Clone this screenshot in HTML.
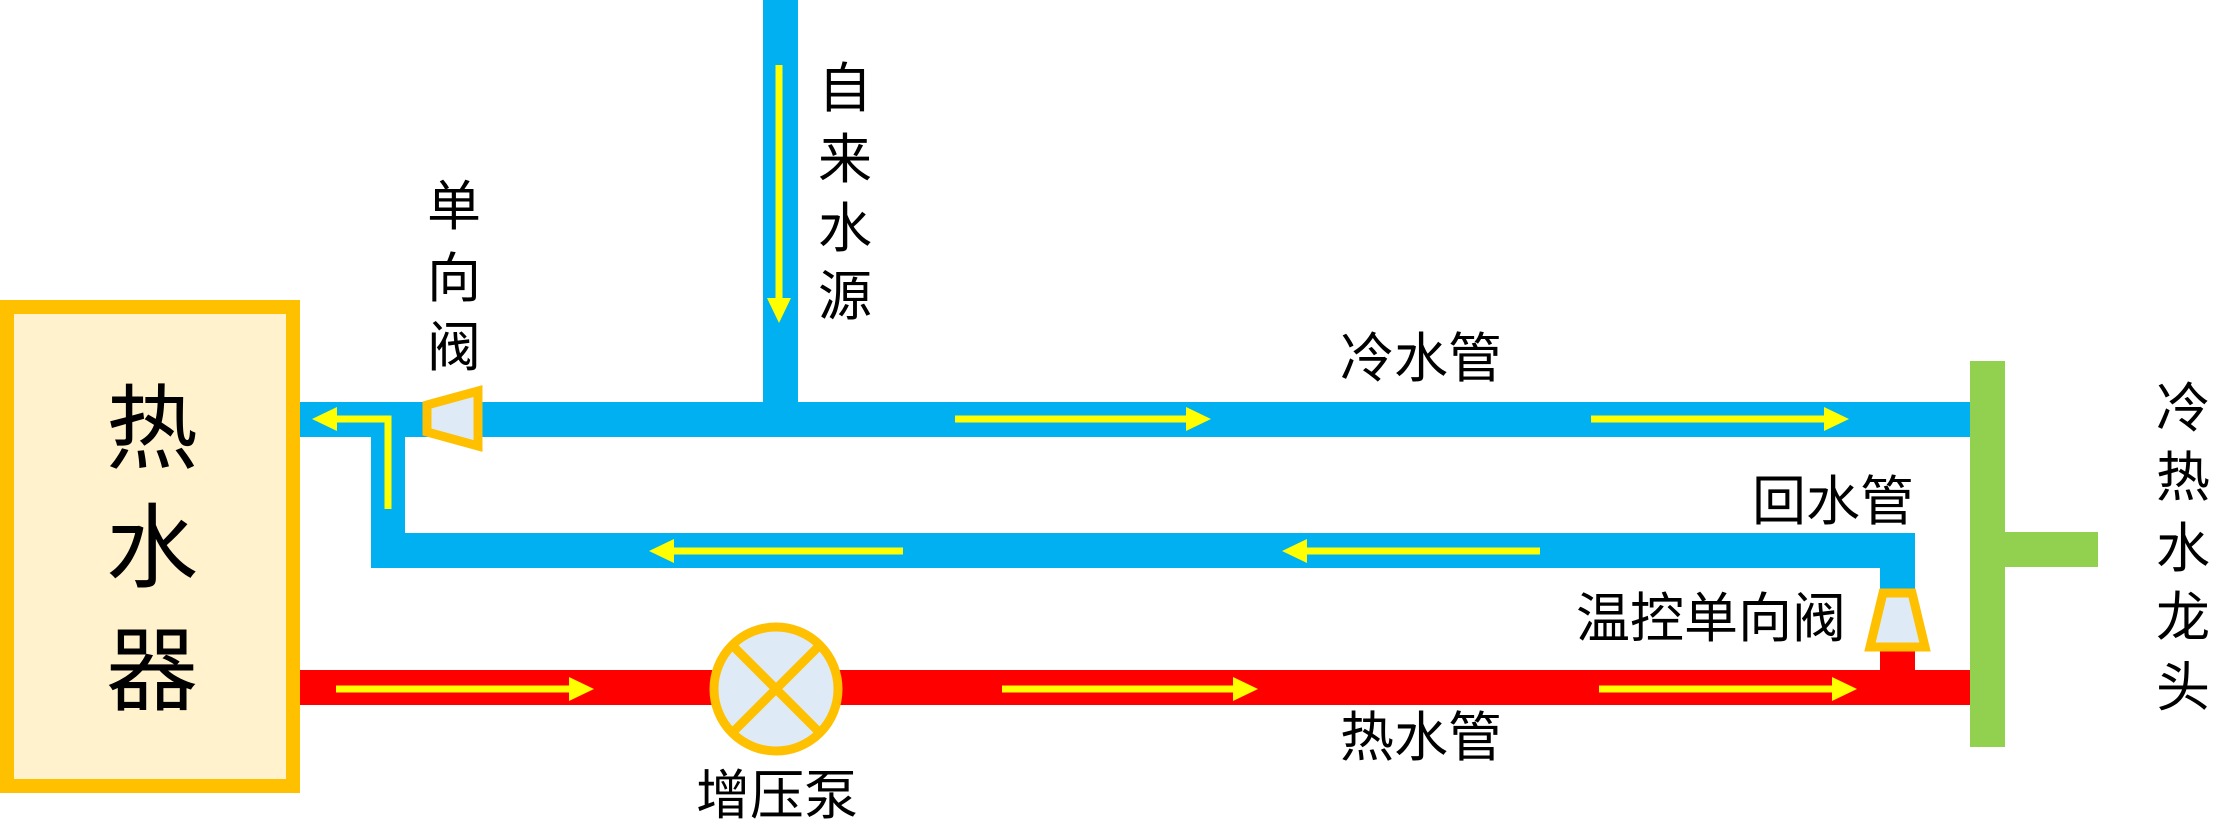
<!DOCTYPE html>
<html><head><meta charset="utf-8"><style>
html,body{margin:0;padding:0;background:#fff;}
svg{display:block;}
text{font-family:"Liberation Sans","Noto Sans CJK SC",sans-serif;fill:#000;}
</style></head><body>
<svg width="2213" height="825" viewBox="0 0 2213 825" xmlns="http://www.w3.org/2000/svg">
<defs>
<marker id="ah" markerWidth="26" markerHeight="26" refX="0" refY="0" orient="auto" markerUnits="userSpaceOnUse" viewBox="0 -13 26 26" overflow="visible">
<path d="M0,-12 L25,0 L0,12 Z" fill="#FFFF00"/>
</marker>
</defs>
<!-- heater -->
<rect x="7" y="307" width="286" height="479" fill="#FFF2CC" stroke="#FFC000" stroke-width="14"/>
<text x="152" y="430" font-size="92" text-anchor="middle" dominant-baseline="central">热</text>
<text x="152" y="549" font-size="92" text-anchor="middle" dominant-baseline="central">水</text>
<text x="152" y="672" font-size="92" text-anchor="middle" dominant-baseline="central">器</text>

<!-- pipes -->
<rect x="763" y="0" width="35" height="402" fill="#00B0F0"/>
<rect x="300" y="402" width="1670" height="35" fill="#00B0F0"/>
<rect x="371" y="437" width="34" height="131" fill="#00B0F0"/>
<rect x="371" y="533" width="1544" height="35" fill="#00B0F0"/>
<rect x="1880" y="533" width="35" height="60" fill="#00B0F0"/>
<rect x="300" y="670" width="1670" height="35" fill="#FF0000"/>
<rect x="1880" y="645" width="35" height="30" fill="#FF0000"/>
<!-- faucet -->
<rect x="1970" y="361" width="35" height="386" fill="#92D050"/>
<rect x="2005" y="532" width="93" height="35" fill="#92D050"/>

<!-- check valve on cold pipe -->
<polygon points="427,405 478,391 478,446 427,432" fill="#DEEBF7" stroke="#FFC000" stroke-width="9"/>
<!-- thermo valve -->
<polygon points="1883,593 1912,593 1925,647 1870,647" fill="#DEEBF7" stroke="#FFC000" stroke-width="9" stroke-linejoin="miter"/>

<!-- pump -->
<circle cx="776" cy="689" r="62" fill="#DEEBF7" stroke="#FFC000" stroke-width="9"/>
<line x1="733" y1="646" x2="819" y2="732" stroke="#FFC000" stroke-width="9"/>
<line x1="819" y1="646" x2="733" y2="732" stroke="#FFC000" stroke-width="9"/>

<!-- arrows -->
<g stroke="#FFFF00" stroke-width="7" fill="none">
<line x1="779" y1="65" x2="779" y2="298" marker-end="url(#ah)"/>
<polyline points="388,509 388,419 337,419" marker-end="url(#ah)"/>
<line x1="955" y1="419" x2="1186" y2="419" marker-end="url(#ah)"/>
<line x1="1591" y1="419" x2="1824" y2="419" marker-end="url(#ah)"/>
<line x1="903" y1="551" x2="674" y2="551" marker-end="url(#ah)"/>
<line x1="1540" y1="551" x2="1307" y2="551" marker-end="url(#ah)"/>
<line x1="336" y1="689" x2="569" y2="689" marker-end="url(#ah)"/>
<line x1="1002" y1="689" x2="1233" y2="689" marker-end="url(#ah)"/>
<line x1="1599" y1="689" x2="1832" y2="689" marker-end="url(#ah)"/>
</g>

<!-- labels -->
<g font-size="54" text-anchor="middle" dominant-baseline="central">
<text x="845" y="89">自</text>
<text x="845" y="160">来</text>
<text x="845" y="229">水</text>
<text x="845" y="297">源</text>
<text x="454" y="207">单</text>
<text x="454" y="279">向</text>
<text x="454" y="348">阀</text>
<text x="1421" y="359">冷水管</text>
<text x="1421" y="738">热水管</text>
<text x="1833" y="502">回水管</text>
<text x="1711" y="619">温控单向阀</text>
<text x="777" y="796">增压泵</text>
<text x="2183" y="409">冷</text>
<text x="2183" y="478">热</text>
<text x="2183" y="549">水</text>
<text x="2183" y="618">龙</text>
<text x="2183" y="688">头</text>
</g>
</svg>
</body></html>
